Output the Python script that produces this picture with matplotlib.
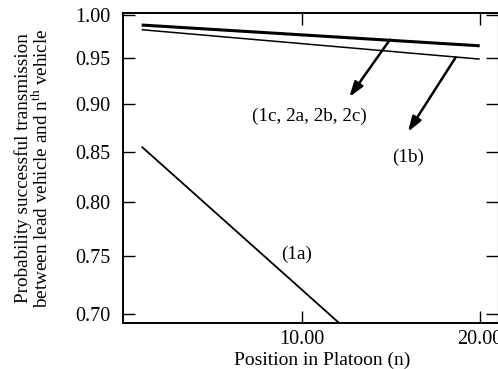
import numpy as np
import matplotlib
matplotlib.use("Agg")
import matplotlib.pyplot as plt
from matplotlib.ticker import FixedLocator, FixedFormatter, NullLocator

# Data
n_upper = [1, 20]
p_upper = [0.9886, 0.9644]      # (1c, 2a, 2b, 2c)
n_1b = [1, 20]
p_1b = [0.9831, 0.9492]         # (1b)
n_1a = [1, 13]
p_1a = [0.855, 0.681]           # (1a)

yticks = [0.70, 0.75, 0.80, 0.85, 0.90, 0.95, 1.00]
ytick_labels = ["0.70", "0.75", "0.80", "0.85", "0.90", "0.95", "1.00"]
xticks = [10, 20]
xtick_labels = ["10.00", "20.00"]

plt.rcParams['font.family'] = ['Liberation Serif', 'DejaVu Serif']
plt.rcParams['mathtext.fontset'] = 'custom'
plt.rcParams['mathtext.rm'] = 'Liberation Serif'

fig = plt.figure(figsize=(4.98, 3.69), dpi=100)
ax = fig.add_axes([123/498, 1 - 323.3/369, (497.5 - 123)/498, (323.3 - 13)/369])

ax.plot(n_upper, p_upper, color='black', lw=2.2, solid_capstyle='butt')
ax.plot(n_1b, p_1b, color='black', lw=1.1, solid_capstyle='butt')
ax.plot(n_1a, p_1a, color='black', lw=1.3, solid_capstyle='butt')

ax.set_yscale('log')
ax.set_xlim(-0.05, 21.0)
ax.set_ylim(0.6925, 1.0029)

ax.yaxis.set_major_locator(FixedLocator(yticks))
ax.yaxis.set_major_formatter(FixedFormatter(ytick_labels))
ax.yaxis.set_minor_locator(NullLocator())
ax.xaxis.set_major_locator(FixedLocator(xticks))
ax.xaxis.set_major_formatter(FixedFormatter(xtick_labels))

ax.tick_params(axis='both', which='major', direction='in', length=8.5, width=1.0,
               top=True, right=True, labelsize=14.5)
ax.tick_params(axis='y', pad=9)
ax.tick_params(axis='x', pad=5)
for s in ['left', 'bottom', 'top']:
    ax.spines[s].set_linewidth(1.4)
ax.spines['right'].set_linewidth(0.8)

ax.set_xlabel("Position in Platoon (n)", fontsize=14)
ax.xaxis.set_label_coords(0.531, -0.12)
ax.xaxis.label.set_va('center')

fig.text(23/498, 1 - 168/369, "Probability successful transmission",
         rotation=90, ha='center', va='center', fontsize=13.8)
fig.text(42/498, 1 - 168/369, "between lead vehicle and n$^{\\mathrm{th}}$ vehicle",
         rotation=90, ha='center', va='center', fontsize=13.8)

arrow = dict(arrowstyle='-|>,head_length=0.9,head_width=0.3', color='black', lw=1.8,
             shrinkA=0, shrinkB=0)
ax.annotate("", xy=(12.67, 0.9072), xytext=(14.95, 0.9714), arrowprops=arrow)
ax.annotate("", xy=(15.97, 0.8703), xytext=(18.65, 0.9512), arrowprops=arrow)

ax.text(10.45, 0.8867, "(1c, 2a, 2b, 2c)", ha='center', va='center', fontsize=13.8)
ax.text(15.96, 0.8442, "(1b)", ha='center', va='center', fontsize=13.8)
ax.text(9.73, 0.7518, "(1a)", ha='center', va='center', fontsize=13.8)

fig.savefig("out.png", dpi=100)
